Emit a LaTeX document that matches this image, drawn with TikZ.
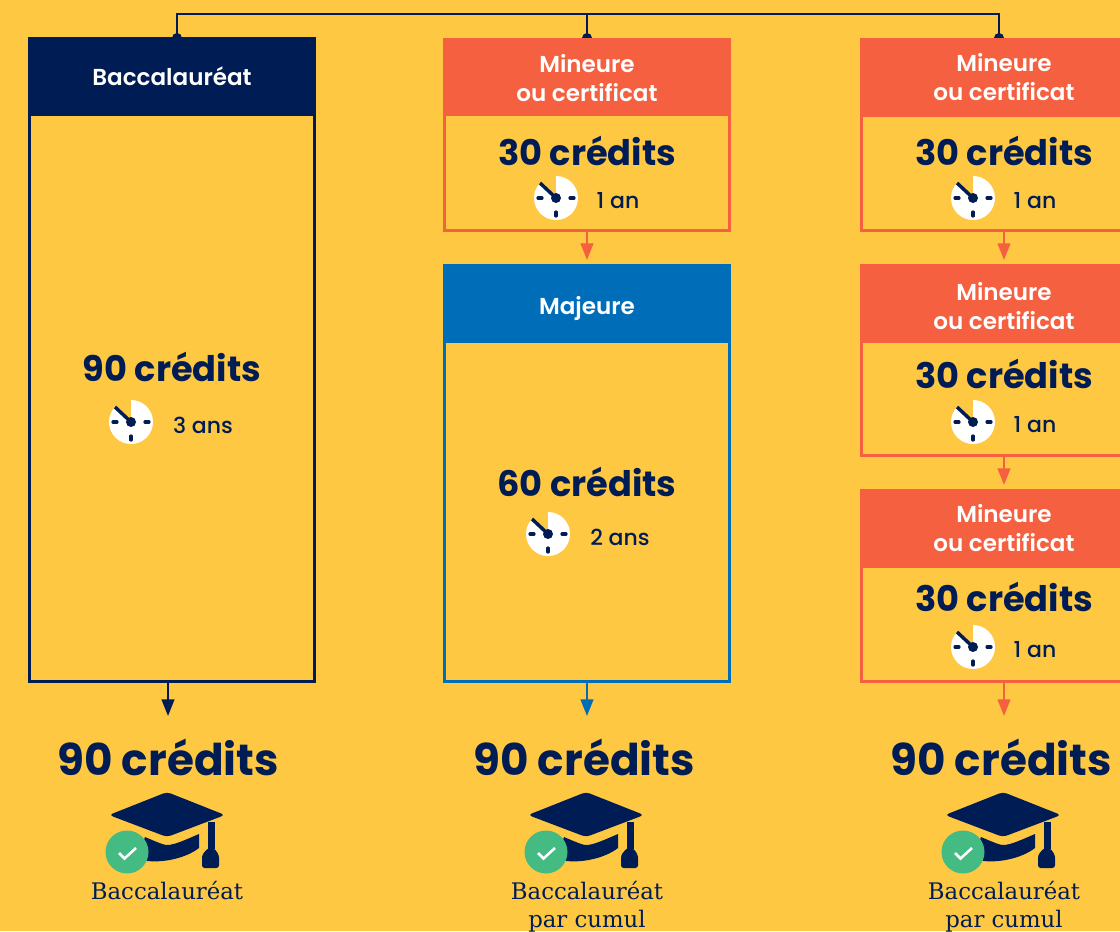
\documentclass[tikz,border=0pt]{standalone}
\usepackage{fontspec}
\setsansfont{Poppins}[BoldFont={Poppins SemiBold}]
\newfontfamily\durfont{Poppins Medium}
\newfontfamily\grasfont{Poppins Bold}
\newfontfamily\diplfont{DejaVu Serif}
\usetikzlibrary{arrows.meta}
\definecolor{fondjaune}{HTML}{FFC843}
\definecolor{marine}{HTML}{001C54}
\definecolor{corail}{HTML}{F56040}
\definecolor{bleu}{HTML}{006DB8}
\definecolor{vert}{HTML}{43BB83}
\newcommand{\headstrut}[1]{\rule{0pt}{#1pt}}
\tikzset{
    px/.style={x=0.75pt,y=-0.75pt},
    framebox/.style={draw=#1,line width=2.25pt,anchor=north west,inner sep=0pt,outer sep=0pt},
    headbox/.style={fill=#1,anchor=north west,inner sep=0pt,outer sep=0pt,minimum width=216pt,
        text=white,align=center,font=\sffamily\bfseries\fontsize{17.3}{21.75}\selectfont},
    creditbig/.style={text=marine,inner sep=0pt,font=\grasfont\fontsize{32.8}{36}\selectfont},
    creditmid/.style={text=marine,inner sep=0pt,font=\grasfont\fontsize{26.4}{30}\selectfont},
    dureelbl/.style={text=marine,inner sep=0pt,font=\durfont\fontsize{16.5}{20}\selectfont},
    dipllbl/.style={text=marine,inner sep=0pt,align=center,font=\diplfont\fontsize{17.1}{21}\selectfont},
    fleche/.style={draw=#1,line width=1.6pt,-{Triangle[length=12.5pt,width=9.5pt]},shorten >=3pt},
    lien/.style={draw=marine,line width=2pt},
    clockicon/.pic={
        \fill[white] (0,0) -- (0,-22) arc (-90:223:22) -- cycle;
        \draw[marine,line width=2.6pt] (0,0) -- (-16,-15);
        \fill[marine] (0,0) circle (5);
        \draw[marine,line width=2.4pt,line cap=round] (-18,0) -- (-14,0);
        \draw[marine,line width=2.4pt,line cap=round] (14,0) -- (18,0);
        \draw[marine,line width=2.4pt,line cap=round] (0,14) -- (0,18);
    },
    capicon/.pic={
        \fill[marine,rounded corners=3pt] (-58,22) -- (0,-1) -- (58,22) -- (0,44) -- cycle;
        \fill[marine] (-22,44) .. controls (-8,50) and (-3,52) .. (0,52) .. controls (8,52) and (20,46) .. (32,41)
            -- (32,55) .. controls (18,66) and (-10,72) .. (-30,66) -- cycle;
        \fill[marine] (40.5,29) rectangle (47.5,56);
        \fill[marine,rounded corners=2pt] (41,55) -- (47,55) -- (52,62) -- (52,75) -- (35,75) -- (35,62) -- cycle;
        \fill[vert] (-40,59) circle (21.5);
        \draw[white,line width=1.9pt] (-48,60) -- (-42.5,65.5) -- (-31,55);
    }
}
\begin{document}
\begin{tikzpicture}[px]
    \useasboundingbox (0,0) rectangle (1120,931);
    \clip (0,0) rectangle (1120,931);
    \fill[fondjaune] (0,0) rectangle (1120,931);

    % liens du haut
    \coordinate (topA) at (177,14);
    \coordinate (topB) at (587,14);
    \coordinate (topC) at (999,14);
    \draw[lien] (177,38) |- (topC) -- (999,38);
    \draw[lien] (topB) -- (587,38);
    \fill[marine] (177,38) circle (5);
    \fill[marine] (587,38) circle (5);
    \fill[marine] (999,38) circle (5);

    % premier parcours
    \node[framebox=marine,minimum width=213.75pt,minimum height=482.25pt] (bacframe) at (29.5,38.5) {};
    \node[headbox=marine,minimum height=59.25pt] (bachead) at (28,37) {Baccalauréat};
    \node[creditmid] (bacnum) at (172,367) {90 crédits};
    \pic at (131,422) {clockicon};
    \node[dureelbl] (bacdur) at (203,425) {3 ans};

    % deuxieme parcours
    \node[framebox=corail,minimum width=213.75pt,minimum height=143.25pt] (minAframe) at (444.5,39.5) {};
    \node[headbox=corail,minimum height=58.5pt] (minAhead) at (443,38) {\headstrut{15}Mineure\\ou certificat};
    \node[creditmid] (minAnum) at (587,151) {30 crédits};
    \pic at (556,198) {clockicon};
    \node[dureelbl] (minAdur) at (618,201) {1 an};

    \node[framebox=bleu,minimum width=213.75pt,minimum height=312pt] (majframe) at (444.5,265.5) {};
    \node[headbox=bleu,minimum height=59.25pt] (majhead) at (443,264) {\headstrut{21}Majeure};
    \node[creditmid] (majnum) at (587,482) {60 crédits};
    \pic at (548,534) {clockicon};
    \node[dureelbl] (majdur) at (620,537) {2 ans};

    % troisieme parcours
    \node[framebox=corail,minimum width=213.75pt,minimum height=143.25pt] (minBframe) at (861.5,39.5) {};
    \node[headbox=corail,minimum height=59.25pt] (minBhead) at (860,38) {Mineure\\ou certificat};
    \node[creditmid] (minBnum) at (1004,151) {30 crédits};
    \pic at (973,198) {clockicon};
    \node[dureelbl] (minBdur) at (1035,201) {1 an};

    \node[framebox=corail,minimum width=213.75pt,minimum height=142.5pt] (minCframe) at (861.5,265.5) {};
    \node[headbox=corail,minimum height=59.25pt] (minChead) at (860,264) {\headstrut{17}Mineure\\ou certificat};
    \node[creditmid] (minCnum) at (1004,374) {30 crédits};
    \pic at (973,422) {clockicon};
    \node[dureelbl] (minCdur) at (1035,425) {1 an};

    \node[framebox=corail,minimum width=213.75pt,minimum height=143.25pt] (minDframe) at (861.5,490.5) {};
    \node[headbox=corail,minimum height=59.25pt] (minDhead) at (860,489) {Mineure\\ou certificat};
    \node[creditmid] (minDnum) at (1004,597) {30 crédits};
    \pic at (973,647) {clockicon};
    \node[dureelbl] (minDdur) at (1035,650) {1 an};

    % totaux
    \node[creditbig] (totA) at (168,757) {90 crédits};
    \node[creditbig] (totB) at (584,757) {90 crédits};
    \node[creditbig] (totC) at (1001,757) {90 crédits};
    \pic at (167,793) {capicon};
    \pic at (586,793) {capicon};
    \pic at (1003,793) {capicon};
    \node[dipllbl] (dipA) at (167,891) {Baccalauréat};
    \node[dipllbl,anchor=north] (dipB) at (587,881) {Baccalauréat\\par cumul};
    \node[dipllbl,anchor=north] (dipC) at (1004,881) {Baccalauréat\\par cumul};

    % fleches
    \coordinate (arrA) at (168,720);
    \coordinate (arrB) at (587,720);
    \coordinate (arrC) at (1004,720);
    \draw[fleche=marine] (168,683) -- (arrA);
    \draw[fleche=bleu] (majframe.south) -- (arrB);
    \draw[fleche=corail] (1004,683) -- (arrC);
    \draw[fleche=corail] (minAframe.south) -- (minAframe.south |- majhead.north);
    \draw[fleche=corail] (1004,232) -- (1004,264);
    \draw[fleche=corail] (1004,457) -- (1004,489);
\end{tikzpicture}
\end{document}
